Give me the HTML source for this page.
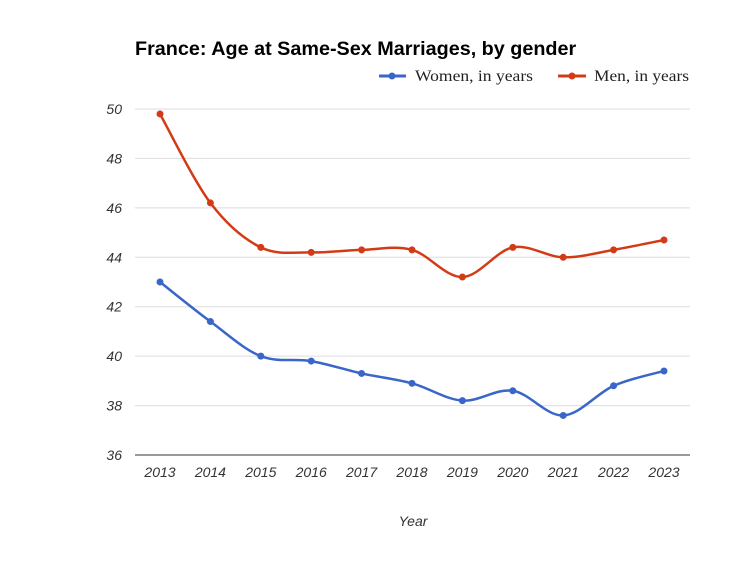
<!DOCTYPE html>
<html><head><style>
body{margin:0;background:#fff;width:750px;height:563px;overflow:hidden}
</style></head><body>
<svg id="s" width="750" height="563" xmlns="http://www.w3.org/2000/svg">
<text x="135" y="55" font-family="Liberation Sans, sans-serif" font-weight="bold" font-size="19.8" fill="#000">France: Age at Same-Sex Marriages, by gender</text>
<line x1="379" y1="76" x2="406" y2="76" stroke="#3a66c9" stroke-width="3"/><circle cx="392" cy="76" r="3.5" fill="#3a66c9"/>
<text x="415" y="81" font-family="Liberation Serif, serif" font-size="16" textLength="118" lengthAdjust="spacingAndGlyphs" fill="#222">Women, in years</text>
<line x1="558" y1="76" x2="586" y2="76" stroke="#d33b17" stroke-width="3"/><circle cx="572" cy="76" r="3.5" fill="#d33b17"/>
<text x="594" y="81" font-family="Liberation Serif, serif" font-size="16" textLength="95" lengthAdjust="spacingAndGlyphs" fill="#222">Men, in years</text>
<text x="413" y="526" text-anchor="middle" font-family="Liberation Sans, sans-serif" font-style="italic" font-size="14" fill="#333">Year</text>
</svg>
<script>
var s=document.getElementById('s'),ns='http://www.w3.org/2000/svg';
function el(t,a,txt){var e=document.createElementNS(ns,t);for(var k in a)e.setAttribute(k,a[k]);if(txt)e.textContent=txt;s.appendChild(e);return e;}
function Y(v){return 455-(v-36)*24.714;}
for(var v=36;v<=50;v+=2){var y=Y(v);el('line',{x1:135,x2:690,y1:y,y2:y,stroke:v==36?'#333':'#ddd','stroke-width':1});
el('text',{x:122,y:y+5,'text-anchor':'end','font-family':'Liberation Sans, sans-serif','font-style':'italic','font-size':14,fill:'#333'},''+v);}
var xs=[];for(var i=0;i<11;i++){xs.push(160+50.4*i);el('text',{x:160+50.4*i,y:477,'text-anchor':'middle','font-family':'Liberation Sans, sans-serif','font-style':'italic','font-size':14,fill:'#333'},''+(2013+i));}
function series(d,c){var p=d.map(function(v,i){return[xs[i],Y(v)]});var str='M'+p[0];
for(var i=0;i<p.length-1;i++){var p0=p[Math.max(0,i-1)],p1=p[i],p2=p[i+1],p3=p[Math.min(p.length-1,i+2)];
var c1=[p1[0]+(p2[0]-p0[0])/6,p1[1]+(p2[1]-p0[1])/6],c2=[p2[0]-(p3[0]-p1[0])/6,p2[1]-(p3[1]-p1[1])/6];
str+=' C'+c1+' '+c2+' '+p2;}
el('path',{d:str,fill:'none',stroke:c,'stroke-width':2.5});
p.forEach(function(q){el('circle',{cx:q[0],cy:q[1],r:3.5,fill:c});});}
series([43,41.4,40,39.8,39.3,38.9,38.2,38.6,37.6,38.8,39.4],'#3a66c9');
series([49.8,46.2,44.4,44.2,44.3,44.3,43.2,44.4,44.0,44.3,44.7],'#d33b17');
</script>
</body></html>
